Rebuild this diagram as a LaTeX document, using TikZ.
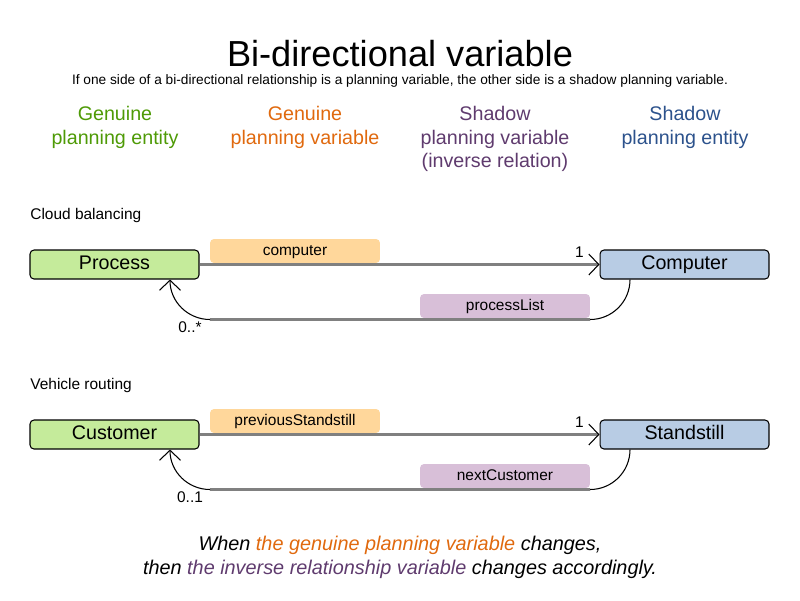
\documentclass[tikz,border=0pt]{standalone}
\usepackage{fontspec}
\setmainfont{Liberation Sans}
\usepackage{tikz}
\usetikzlibrary{calc}
\usetikzlibrary{positioning}
\usetikzlibrary{arrows.meta}

\definecolor{entgreen}{HTML}{C5EB9B}
\definecolor{entblue}{HTML}{B8CCE4}
\definecolor{varorange}{HTML}{FFD79B}
\definecolor{varpurple}{HTML}{D8BFD8}
\definecolor{txtgreen}{HTML}{4E9A06}
\definecolor{txtorange}{HTML}{E0690E}
\definecolor{txtpurple}{HTML}{5F3B6E}
\definecolor{txtblue}{HTML}{2C528C}
\definecolor{linegray}{HTML}{808080}

\tikzset{
  big/.style={font=\fontsize{11.2}{13.6}\selectfont},
  small/.style={font=\fontsize{8.8}{10.5}\selectfont},
  classbox/.style={draw,line width=0.6pt,rounded corners=0.08cm,big,
    minimum width=3.38cm,minimum height=0.58cm,inner sep=0,
    text height=8.1pt,text depth=2.3pt},
  genuinebox/.style={classbox,fill=entgreen},
  shadowbox/.style={classbox,fill=entblue},
  varlabel/.style={rounded corners=0.08cm,small,minimum width=3.4cm,
    minimum height=0.48cm,inner sep=0,text height=6.4pt,text depth=1.8pt},
  header/.style={big,align=center,anchor=north,inner sep=0},
  refline/.style={draw=linegray,line width=1.2pt},
  barb/.style={-{Straight Barb[length=0.2cm,width=0.42cm,color=black,line width=0.6pt]}},
}

\begin{document}
\begin{tikzpicture}[x=0.02cm,y=-0.02cm]
    \useasboundingbox (0,0) rectangle (800,600);

    \node [anchor=base,font=\fontsize{20.6}{24}\selectfont] (title) at (400,66) {Bi-directional variable};
    \node [anchor=base,font=\fontsize{7.8}{9}\selectfont] (subtitle) at (400,84)
      {If one side of a bi-directional relationship is a planning variable, the other side is a shadow planning variable.};

    \node [header,txtgreen]  (hgenent) at (115,105.5) {Genuine\\planning entity};
    \node [header,txtorange] (hgenvar) at (305,105.5) {Genuine\\planning variable};
    \node [header,txtpurple] (hshavar) at (495,105.5) {Shadow\\planning variable\\(inverse relation)};
    \node [header,txtblue]   (hshaent) at (685,105.5) {Shadow\\planning entity};

    % cloud balancing
    \node [small,anchor=base west,inner sep=0] (cloud) at (30,219) {Cloud balancing};
    \node [genuinebox] (proc) at (114.5,264.5) {Process};
    \node [shadowbox]  (comp) at (684.5,264.5) {Computer};
    \node [varlabel,fill=varorange] (lblcomp) at (295,251) {computer};
    \node [varlabel,fill=varpurple] (lblproc) at (505,306) {processList};

    \draw [refline,barb] (proc.east) -- node[pos=0.95,above,small,text=black] (onecomp) {1} (comp.west);
    \coordinate (procfoot) at ($(proc.south)+(55.5,0)$);
    \coordinate (compfoot) at ($(comp.south)+(-54.5,0)$);
    \coordinate (procturn) at (210,319.5);
    \coordinate (compturn) at (590,319.5);
    \draw [line width=0.6pt] (compfoot) to[out=-90,in=0] (compturn);
    \draw [refline] (compturn) -- (procturn);
    \draw [line width=0.6pt,barb] (procturn) to[out=180,in=-90] (procfoot);
    \node [small,inner sep=0] (manyproc) at (190,327) {0..*};

    % vehicle routing
    \node [small,anchor=base west,inner sep=0] (vehicle) at (30,389) {Vehicle routing};
    \node [genuinebox] (cust) at (114.5,434.5) {Customer};
    \node [shadowbox]  (stand) at (684.5,434.5) {Standstill};
    \node [varlabel,fill=varorange] (lblprev) at (295,421) {previousStandstill};
    \node [varlabel,fill=varpurple] (lblnext) at (505,476) {nextCustomer};

    \draw [refline,barb] (cust.east) -- node[pos=0.95,above,small,text=black] (onestand) {1} (stand.west);
    \coordinate (custfoot) at ($(cust.south)+(55.5,0)$);
    \coordinate (standfoot) at ($(stand.south)+(-54.5,0)$);
    \coordinate (custturn) at (210,489.5);
    \coordinate (standturn) at (590,489.5);
    \draw [line width=0.6pt] (standfoot) to[out=-90,in=0] (standturn);
    \draw [refline] (standturn) -- (custturn);
    \draw [line width=0.6pt,barb] (custturn) to[out=180,in=-90] (custfoot);
    \node [small,inner sep=0] (onecust) at (190,497) {0..1};

    \node [header,font=\fontsize{11.3}{13.6}\selectfont\itshape] (footer) at (400,536)
      {When \textcolor{txtorange}{the genuine planning variable} changes,\\
       then \textcolor{txtpurple}{the inverse relationship variable} changes accordingly.};

  \end{tikzpicture}
\end{document}
